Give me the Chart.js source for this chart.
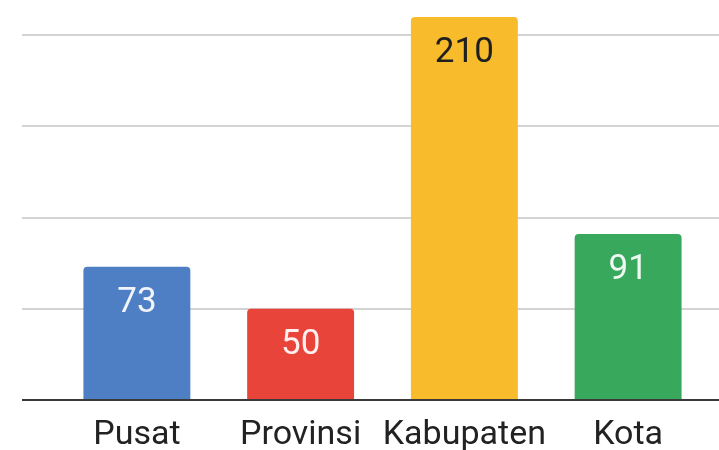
<!DOCTYPE html>
<html>
<head>
<meta charset="utf-8">
<script src="https://cdn.jsdelivr.net/npm/chart.js@4"></script>
<style>
  html, body { margin: 0; padding: 0; background: #ffffff; }
  #wrap { width: 719px; height: 450px; position: relative; }
</style>
</head>
<body>
<div id="wrap"><canvas id="barCanvas"></canvas></div>
<script>
// chart values
const categories = ['Pusat', 'Provinsi', 'Kabupaten', 'Kota'];
const counts = [73, 50, 210, 91];
const gridValues = [50, 100, 150, 200];
const barColors = ['#4e7fc4', '#e8443a', '#f7bb2b', '#37a85c'];
const labelColors = ['rgba(255,255,255,0.92)', 'rgba(255,255,255,0.92)', '#1f1f1f', 'rgba(255,255,255,0.92)'];

// gridlines run past the plot area, so draw them by hand off the y scale
const wideGrid = {
    id: 'wideGrid',
    beforeDatasetsDraw(chart) {
        const ctx = chart.ctx;
        const y = chart.scales.y;
        ctx.save();
        ctx.strokeStyle = '#d3d3d3';
        ctx.lineWidth = 2;
        gridValues.forEach(v => {
            const py = Math.round(y.getPixelForValue(v));
            ctx.beginPath();
            ctx.moveTo(22, py);
            ctx.lineTo(chart.width, py);
            ctx.stroke();
        });
        ctx.restore();
    },
    afterDatasetsDraw(chart) {
        const ctx = chart.ctx;
        const y = chart.scales.y;
        const base = Math.round(y.getPixelForValue(0));
        ctx.save();
        ctx.strokeStyle = '#3a3a3a';
        ctx.lineWidth = 2;
        ctx.beginPath();
        ctx.moveTo(22, base);
        ctx.lineTo(chart.width, base);
        ctx.stroke();

        // value labels inside the top of each bar
        ctx.font = '35px Roboto';
        ctx.textAlign = 'center';
        ctx.textBaseline = 'middle';
        chart.getDatasetMeta(0).data.forEach((bar, i) => {
            ctx.fillStyle = labelColors[i];
            ctx.fillText(String(counts[i]), bar.x, bar.y + 36);
        });
        ctx.restore();
    }
};

new Chart(document.getElementById('barCanvas'), {
    type: 'bar',
    data: {
        labels: categories,
        datasets: [{
            data: counts,
            backgroundColor: barColors,
            borderRadius: 4,
            borderSkipped: 'start',
            barPercentage: 0.653,
            categoryPercentage: 1
        }]
    },
    options: {
        responsive: true,
        maintainAspectRatio: false,
        animation: false,
        layout: { padding: { left: 55, right: 9, top: 17, bottom: 0 } },
        plugins: {
            legend: { display: false },
            tooltip: { enabled: false }
        },
        scales: {
            x: {
                grid: { display: false, drawTicks: false },
                border: { display: false },
                ticks: {
                    color: '#222222',
                    font: { family: 'Roboto', size: 34 },
                    padding: 15,
                    maxRotation: 0,
                    minRotation: 0,
                    autoSkip: false
                },
                afterFit(scale) { scale.height = 50; }
            },
            y: {
                display: false,
                min: 0,
                max: 210
            }
        }
    },
    plugins: [wideGrid]
});
</script>
</body>
</html>
